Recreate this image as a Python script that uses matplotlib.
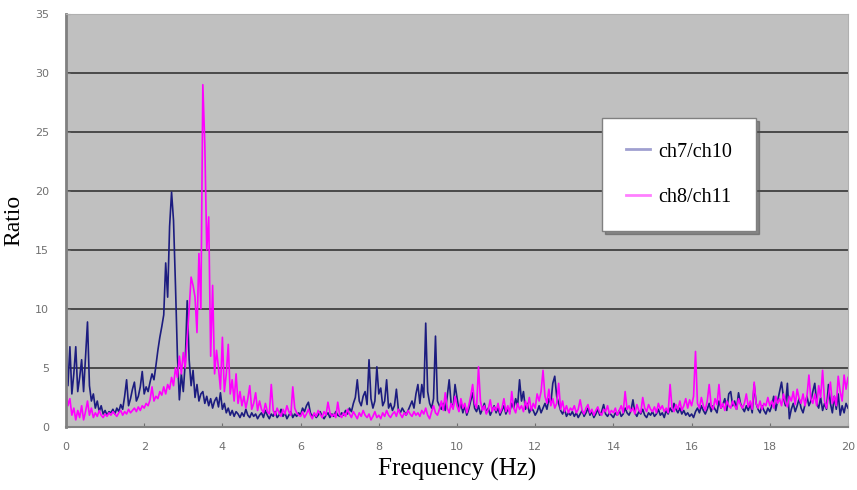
import matplotlib.pyplot as plt
import numpy as np

# frequency bins (Hz), 0.05 Hz resolution
freq = np.round(np.arange(0, 20.001, 0.05), 2)

# ch7/ch10 ratio, one row per Hz
ch7_ch10 = [
    7.4, 3.5, 6.8, 2.8, 4.5, 6.8, 3.0, 4.2, 5.7, 3.0, 6.0, 8.9, 3.5, 2.2, 2.8, 1.6, 2.2, 1.3, 1.8, 1.1,
    1.4, 1.0, 1.3, 1.2, 1.5, 1.1, 1.6, 1.3, 1.9, 1.5, 2.6, 4.0, 1.8, 2.4, 3.2, 3.8, 2.2, 2.6, 3.4, 4.7,
    2.8, 3.4, 3.0, 3.8, 4.5, 4.0, 5.2, 6.5, 7.6, 8.5, 9.5, 13.9, 11.0, 17.0, 19.9, 17.5, 12.0, 6.0, 2.3, 4.5,
    3.0, 5.5, 10.7, 5.7, 3.5, 4.8, 2.5, 3.6, 2.2, 2.8, 3.0, 2.0, 2.6, 1.8, 2.4, 1.6, 2.2, 2.5, 1.7, 2.9,
    1.5, 2.0, 1.2, 1.6, 1.0, 1.4, 0.9, 1.3, 1.1, 0.8, 1.2, 0.9, 1.5, 1.0, 0.8, 1.2, 0.9, 1.1, 0.7, 1.0,
    1.2, 0.8, 1.4, 1.0, 0.7, 1.1, 0.9, 1.3, 0.8, 1.0, 1.5, 0.9, 1.2, 0.7, 1.0, 1.3, 0.8, 1.1, 0.9, 1.2,
    1.0, 1.6, 1.3, 1.8, 2.1, 1.2, 0.9, 1.1, 0.8, 1.0, 1.3, 0.9, 0.7, 1.0, 1.2, 0.8, 1.1, 0.9, 1.3, 1.0,
    0.9, 1.2, 1.0, 1.4, 1.1, 1.6, 1.3, 2.0, 2.5, 4.0, 2.2, 1.8, 2.6, 3.0, 1.9, 5.7, 2.4, 1.6, 2.2, 5.1,
    2.8, 3.3, 1.8, 2.2, 4.0, 1.6, 2.0, 1.4, 1.8, 3.2, 1.5, 1.2, 1.6, 1.3, 1.0, 1.4, 1.8, 2.2, 1.6, 2.8,
    3.6, 2.0, 3.6, 2.5, 8.8, 3.0, 2.0, 1.6, 2.4, 7.7, 2.2, 1.8, 1.5, 2.0, 1.4, 2.6, 4.0, 2.0, 1.6, 3.6,
    2.5, 1.4, 2.0, 1.2, 1.8, 1.0, 1.5, 2.2, 2.9, 1.6, 1.3, 1.8, 1.1, 1.5, 2.0, 1.2, 1.6, 1.0, 1.4, 1.8,
    1.2, 1.6, 1.0, 1.4, 1.8, 1.1, 1.5, 1.3, 2.0, 1.6, 2.4, 1.8, 4.0, 2.2, 3.0, 1.5, 2.0, 1.2, 1.6, 1.4,
    1.0, 1.3, 1.8, 1.2, 1.6, 2.0, 1.5, 2.4, 2.0, 3.7, 4.3, 2.6, 2.0, 1.4, 1.1, 1.5, 0.9, 1.2, 1.0, 1.3,
    0.9, 1.2, 0.8, 1.1, 1.4, 0.9, 1.2, 1.6, 1.0, 1.3, 0.8, 1.1, 1.5, 1.0, 1.3, 1.9, 1.1, 0.9, 1.2, 1.0,
    0.8, 1.2, 1.0, 1.4, 0.9, 1.1, 1.6, 1.2, 1.0, 1.4, 2.3, 1.2, 0.9, 1.3, 1.1, 1.5, 1.0, 0.8, 1.2, 1.0,
    1.3, 0.9, 1.1, 1.5, 1.0, 1.2, 0.8, 1.4, 1.1, 1.6, 1.3, 2.0, 1.5, 1.2, 1.6, 1.1, 1.4, 1.0, 1.2, 0.9,
    1.1, 0.8, 1.3, 1.6, 1.2, 1.8, 1.4, 1.1, 1.5, 2.0, 1.3, 1.8, 1.5, 1.2, 2.2, 1.6, 1.9, 2.4, 1.4, 2.8,
    3.0, 1.8, 2.2, 1.5, 2.9, 2.0, 1.6, 1.3, 1.8, 1.4, 2.0, 1.2, 3.6, 2.0, 1.5, 1.2, 1.8, 1.4, 1.1, 1.6,
    1.3, 1.8, 2.6, 1.4, 2.2, 3.0, 3.8, 2.5, 1.8, 3.7, 0.7, 1.5, 2.0, 1.3, 1.8, 2.4, 1.6, 1.2, 1.9, 2.6,
    1.8, 2.2, 3.0, 3.7, 2.0, 1.6, 2.5, 1.4, 2.0, 1.5, 3.6, 2.0, 1.2, 2.6, 1.5, 2.8, 1.0, 1.8, 1.2, 2.0,
    1.6,
]

# ch8/ch11 ratio, one row per Hz
ch8_ch11 = [
    3.3, 1.8, 2.4, 1.0, 1.6, 0.6, 1.4, 0.8, 1.8, 0.6, 1.3, 2.2, 1.0, 1.6, 0.8, 1.2, 0.9, 1.4, 1.0, 0.8,
    1.1, 0.9, 1.2, 1.0, 1.3, 1.1, 0.9, 1.2, 1.4, 1.0, 1.3, 1.1, 1.5, 1.2, 1.4, 1.6, 1.3, 1.7, 1.4, 1.8,
    1.6, 2.0, 1.8, 2.3, 3.4, 2.2, 2.6, 2.4, 3.0, 2.7, 3.4, 2.8, 3.6, 3.2, 4.2, 3.5, 5.0, 4.2, 6.0, 4.5,
    6.3, 5.0, 7.5, 10.0, 12.7, 12.0, 11.0, 8.0, 14.7, 10.0, 29.0, 24.0, 15.0, 17.8, 6.0, 12.0, 4.5, 6.5, 5.0, 3.2,
    7.6, 3.0, 4.5, 7.0, 2.8, 4.0, 2.2, 4.5, 2.0, 3.0, 1.8, 2.6, 1.6, 2.4, 3.5, 1.5, 2.0, 2.9, 1.4, 2.2,
    1.5, 1.2, 2.0, 1.3, 1.1, 3.6, 1.4, 1.0, 1.6, 1.2, 0.9, 1.5, 1.1, 1.8, 1.3, 1.0, 3.4, 1.6, 1.2, 1.0,
    0.9, 1.3, 0.8, 1.1, 1.5, 1.0, 0.7, 1.2, 0.9, 1.4, 1.1, 0.8, 1.3, 1.0, 2.1, 1.2, 0.9, 1.1, 0.8, 2.1,
    1.0, 0.8, 1.2, 0.9, 1.5, 1.1, 0.8, 1.3, 1.0, 0.7, 1.2, 0.9, 1.4, 1.0, 0.8, 1.1, 0.6, 0.9, 1.3, 0.8,
    1.0, 0.7, 1.2, 0.9, 1.4, 1.0, 0.8, 1.1, 1.3, 0.9, 1.5, 1.1, 0.8, 1.2, 1.0, 1.4, 1.1, 0.9, 1.3, 1.0,
    1.2, 0.9, 1.4, 1.1, 1.6, 1.0, 0.7, 1.3, 1.8, 1.2, 1.0, 1.5, 2.2, 1.4, 2.9, 1.6, 1.2, 2.0, 1.5, 2.6,
    1.8, 1.3, 2.4, 1.6, 2.0, 1.2, 1.8, 2.6, 3.6, 2.0, 1.6, 5.1, 2.2, 1.4, 1.8, 1.1, 1.5, 2.3, 1.3, 1.7,
    1.4, 2.0, 1.2, 1.6, 2.4, 1.3, 1.8, 1.1, 3.0, 1.6, 1.2, 2.0, 1.5, 1.8, 1.3, 2.2, 1.6, 2.5, 1.4, 2.0,
    1.6, 2.8, 2.2, 3.0, 4.8, 2.6, 2.0, 3.2, 1.8, 2.4, 1.6, 2.0, 3.7, 1.5, 2.2, 1.3, 1.8, 1.2, 1.6, 1.4,
    1.8, 1.2, 1.5, 2.3, 1.4, 1.1, 1.6, 1.9, 1.2, 1.5, 1.0, 1.4, 1.7, 1.2, 1.0, 1.5, 1.3, 1.8, 1.1, 1.4,
    1.2, 1.6, 1.0, 1.4, 1.8, 1.2, 3.0, 1.5, 1.8, 1.3, 1.6, 1.1, 1.9, 1.4, 1.2, 2.5, 1.6, 1.3, 1.9, 1.5,
    1.3, 1.7, 1.2, 2.0, 1.5, 1.8, 1.3, 1.6, 1.2, 3.6, 1.6, 1.3, 1.9, 1.5, 2.2, 1.4, 1.8, 2.4, 1.6, 2.3,
    1.8, 2.6, 6.4, 2.0, 1.6, 2.5, 1.8, 1.4, 2.2, 3.6, 1.8, 1.5, 2.4, 1.9, 3.6, 1.6, 2.0, 1.4, 2.2, 1.8,
    1.6, 2.2, 1.8, 1.5, 2.4, 1.9, 1.6, 2.0, 2.8, 1.7, 2.2, 1.5, 3.8, 2.0, 1.6, 2.2, 1.5, 2.0, 1.8, 2.5,
    1.8, 2.2, 1.6, 2.6, 2.0, 2.4, 1.8, 2.8, 2.1, 1.7, 2.6, 2.2, 3.0, 1.9, 3.2, 2.4, 2.0, 2.8, 1.8, 2.6,
    4.4, 2.4, 2.0, 2.8, 1.8, 3.5, 2.5, 4.8, 2.2, 1.6, 2.6, 3.8, 2.0, 2.6, 1.8, 4.3, 3.0, 2.2, 4.4, 3.2,
    4.2,
]

fig = plt.figure(figsize=(8.57, 4.9), dpi=100)
ax = fig.add_axes([0.077, 0.1286, 0.9125, 0.843])
ax.set_facecolor('#c0c0c0')

ax.plot(freq, ch7_ch10, color='#1c1c80', lw=1.2, label='ch7/ch10')
ax.plot(freq, ch8_ch11, color='#ff00ff', lw=1.2, label='ch8/ch11')

ax.set_xlim(0, 20)
ax.set_ylim(0, 35)
ax.set_xticks(np.arange(0, 21, 2))
ax.set_yticks(np.arange(0, 36, 5))
for y in range(5, 35, 5):
    ax.axhline(y, color='#404040', lw=1.3, zorder=0.5)

ax.tick_params(colors='#707070', labelsize=8, length=3, direction='in')
ax.tick_params(axis='x', pad=11)
ax.tick_params(axis='y', pad=12)
ax.spines['left'].set_color('#808080')
ax.spines['left'].set_linewidth(2)
ax.spines['bottom'].set_color('#808080')
ax.spines['bottom'].set_linewidth(1.5)
ax.spines['top'].set_color('#b0b0b0')
ax.spines['right'].set_color('#b0b0b0')

ax.set_xlabel('Frequency (Hz)', family='Liberation Serif', fontsize=18, labelpad=4)
ax.set_ylabel('Ratio', family='Liberation Serif', fontsize=17, labelpad=8)

leg = ax.legend(loc='center', bbox_to_anchor=(0.784, 0.611), frameon=True, fancybox=False,
                shadow=True, prop={'family': 'Liberation Serif', 'size': 14.5},
                labelspacing=1.3, borderpad=1.2, handlelength=1.2, handletextpad=0.4,
                borderaxespad=0, facecolor='white', edgecolor='#808080', framealpha=1)
leg.get_lines()[0].set_color('#a0a0d0')
leg.get_lines()[1].set_color('#ff80ff')
for ln in leg.get_lines():
    ln.set_linewidth(2)
leg.get_frame().set_linewidth(1)

fig.savefig('out.png', dpi=100)
